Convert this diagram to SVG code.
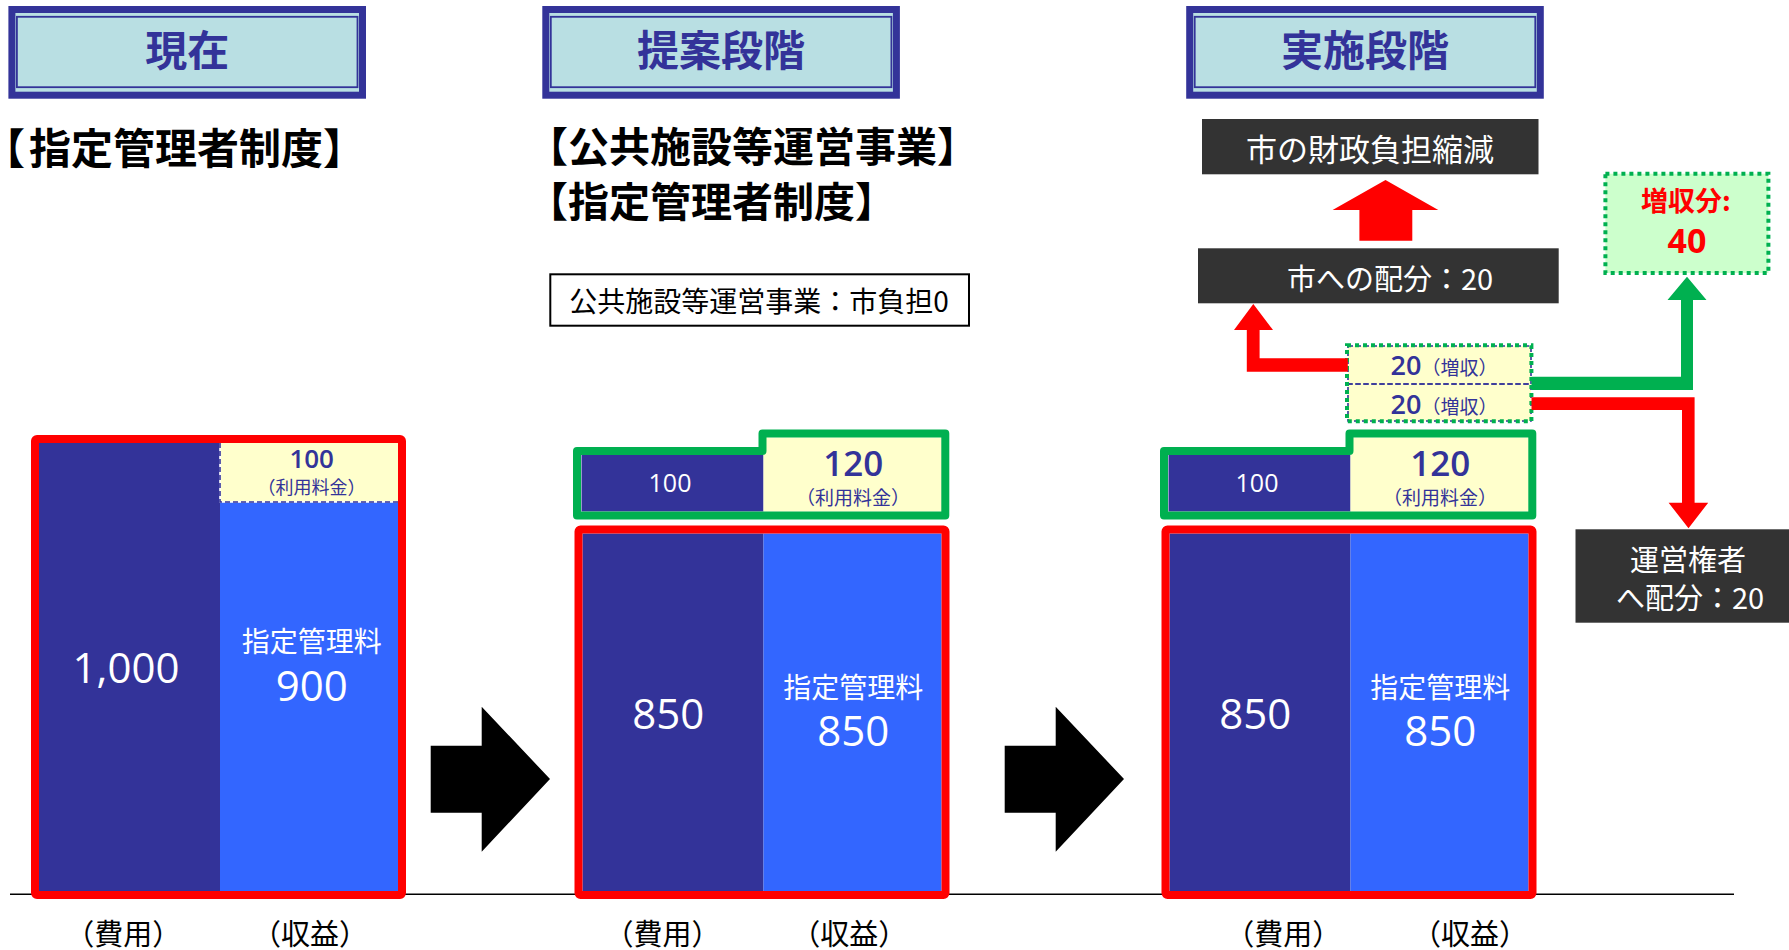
<svg xmlns="http://www.w3.org/2000/svg" width="1789" height="950" viewBox="0 0 1789 950">
<style>
text{font-family:"Noto Sans CJK JP","Noto Sans",sans-serif}
.num{font-family:"Open Sans","Noto Sans CJK JP",sans-serif}
.title{font-size:42px;font-weight:700;fill:#333399;text-anchor:middle}
.head{font-size:42px;font-weight:700;fill:#000}
.lbl{font-size:29px;fill:#000;text-anchor:middle}
.w{fill:#fff;text-anchor:middle}
.b{fill:#333399;text-anchor:middle}
.tframe{fill:#B9DFE3;stroke:#333399;stroke-width:7}
.tinner{fill:none;stroke:#333399;stroke-width:1.8}
.red{fill:none;stroke:#FF0000;stroke-width:8;stroke-linejoin:round}
.green{fill:none;stroke:#00B050;stroke-width:8;stroke-linejoin:round}
.dk{fill:#333399}.bl{fill:#3366FF}.yl{fill:#FFFFCC}
.dbox{fill:#333333}
.bdash{fill:none;stroke:#333399;stroke-width:1.6;stroke-dasharray:5 3}
</style>

<g id="title1" transform="translate(8.4,0)">
<rect class="tframe" x="3.5" y="9.5" width="350.6" height="85.7"/>
<rect class="tinner" x="8.5" y="16.8" width="340.6" height="70.4"/>
<text class="title" x="178.8" y="65.5">現在</text>
</g>
<g id="title2" transform="translate(542.3,0)">
<rect class="tframe" x="3.5" y="9.5" width="350.6" height="85.7"/>
<rect class="tinner" x="8.5" y="16.8" width="340.6" height="70.4"/>
<text class="title" x="178.8" y="65.5">提案段階</text>
</g>
<g id="title3" transform="translate(1186.2,0)">
<rect class="tframe" x="3.5" y="9.5" width="350.6" height="85.7"/>
<rect class="tinner" x="8.5" y="16.8" width="340.6" height="70.4"/>
<text class="title" x="178.8" y="65.5">実施段階</text>
</g>

<g id="heading1"><text class="head" x="4" y="164"><tspan style="font-feature-settings:'halt' 1">【</tspan><tspan dx="4">指定管理者制度】</tspan></text></g>
<g id="heading2">
<text class="head" font-size="41" style="font-size:41px"><tspan x="527" y="162">【公共施設等運営事業】</tspan><tspan x="527" y="217">【指定管理者制度】</tspan></text>
</g>
<g id="note">
<rect x="550.3" y="274.3" width="418.7" height="51.4" fill="#fff" stroke="#000" stroke-width="2"/>
<text x="759" y="312" font-size="28" text-anchor="middle" fill="#000">公共施設等運営事業：市負担0</text>
</g>

<line x1="10" y1="894.3" x2="1734" y2="894.3" stroke="#000" stroke-width="1.6"/>

<g id="bar1" transform="translate(31,0)">
<rect class="dk" x="8" y="443" width="181" height="448"/>
<rect class="bl" x="189" y="502" width="178" height="389"/>
<rect class="yl" x="189" y="443" width="178" height="59"/>
<path d="M189,443 V502 H367" fill="none" stroke="#fff" stroke-width="1.6"/>
<path class="bdash" d="M189,443 V502 H367"/>
<rect class="red" x="4" y="439" width="367" height="456" rx="2"/>
<text class="b"><tspan class="num" x="280.7" y="468" font-size="26" font-weight="600">100</tspan><tspan x="280.5" y="494" font-size="18">（利用料金）</tspan></text>
<text class="w num" x="95" y="683" font-size="42">1,000</text>
<text class="w"><tspan x="280.7" y="652" font-size="28">指定管理料</tspan><tspan class="num" x="280.7" y="701" font-size="42">900</tspan></text>
</g>

<g id="bar2" transform="translate(574.5,0)">
<rect class="dk" x="7" y="455" width="182" height="56.5"/>
<rect class="yl" x="189" y="437.5" width="178" height="74"/>
<path class="green" d="M2.5,451 H188 V433.5 H370.8 V515.5 H2.5 Z"/>
<rect class="dk" x="8" y="533.5" width="181" height="357.5"/>
<rect class="bl" x="189" y="533.5" width="178" height="357.5"/>
<rect class="red" x="4" y="529.5" width="367" height="365.5" rx="2"/>
<text class="w num" x="95.5" y="492" font-size="25">100</text>
<text class="b"><tspan class="num" x="278.8" y="476" font-size="35" font-weight="600">120</tspan><tspan x="278.5" y="505" font-size="19">（利用料金）</tspan></text>
<text class="w num" x="93.8" y="729" font-size="42">850</text>
<text class="w"><tspan x="278.8" y="698" font-size="28">指定管理料</tspan><tspan class="num" x="278.8" y="746" font-size="42">850</tspan></text>
</g>

<g id="bar3" transform="translate(1161.5,0)">
<rect class="dk" x="7" y="455" width="182" height="56.5"/>
<rect class="yl" x="189" y="437.5" width="178" height="74"/>
<path class="green" d="M2.5,451 H188 V433.5 H370.8 V515.5 H2.5 Z"/>
<rect class="dk" x="8" y="533.5" width="181" height="357.5"/>
<rect class="bl" x="189" y="533.5" width="178" height="357.5"/>
<rect class="red" x="4" y="529.5" width="367" height="365.5" rx="2"/>
<text class="w num" x="95.5" y="492" font-size="25">100</text>
<text class="b"><tspan class="num" x="278.8" y="476" font-size="35" font-weight="600">120</tspan><tspan x="278.5" y="505" font-size="19">（利用料金）</tspan></text>
<text class="w num" x="93.8" y="729" font-size="42">850</text>
<text class="w"><tspan x="278.8" y="698" font-size="28">指定管理料</tspan><tspan class="num" x="278.8" y="746" font-size="42">850</tspan></text>
</g>

<g id="labels">
<text class="lbl" x="123.3" y="945">（費用）</text>
<text class="lbl" x="310" y="945">（収益）</text>
<text class="lbl" x="662.5" y="945">（費用）</text>
<text class="lbl" x="849.2" y="945">（収益）</text>
<text class="lbl" x="1283.3" y="945">（費用）</text>
<text class="lbl" x="1470" y="945">（収益）</text>
</g>

<g id="zoushu-box">
<rect class="yl" x="1348" y="346" width="183" height="38"/>
<rect class="yl" x="1348" y="384" width="183" height="37"/>
<rect class="bdash" x="1348" y="346" width="183" height="38"/>
<rect class="bdash" x="1348" y="384" width="183" height="37"/>
<rect x="1347" y="345.3" width="184.4" height="76" fill="none" stroke="#00B050" stroke-width="4" stroke-dasharray="4 4"/>
<text class="b"><tspan x="1444" y="375"><tspan class="num" font-size="27" font-weight="600">20</tspan><tspan font-size="19">（増収）</tspan></tspan><tspan x="1444" y="414"><tspan class="num" font-size="27" font-weight="600">20</tspan><tspan font-size="19">（増収）</tspan></tspan></text>
</g>

<g id="zoushu-total">
<rect x="1605.4" y="173.7" width="163" height="99.3" fill="#CCFFCC" stroke="#00B050" stroke-width="4" stroke-dasharray="4 4"/>
<text font-weight="700" fill="#FF0000" text-anchor="middle"><tspan x="1686" y="211" font-size="27">増収分:</tspan><tspan class="num" x="1687" y="253" font-size="34">40</tspan></text>
</g>

<g id="shi-haibun">
<rect class="dbox" x="1198" y="248.3" width="360.7" height="55"/>
<text class="w" x="1390" y="290" font-size="29">市への配分：20</text>
</g>
<g id="shi-zaisei">
<rect class="dbox" x="1202" y="119" width="336.5" height="55.3"/>
<text class="w" x="1370" y="161" font-size="31">市の財政負担縮減</text>
</g>
<g id="unei">
<rect class="dbox" x="1575.5" y="529.3" width="213.5" height="93.4"/>
<text class="w" font-size="29"><tspan x="1688" y="571">運営権者</tspan><tspan x="1690" y="609">へ配分：20</tspan></text>
</g>

<g id="connectors">
<polygon points="430.7,745.7 481.7,745.7 481.7,706.7 550,779 481.7,851.7 481.7,812.7 430.7,812.7" fill="#000"/>
<polygon points="1004.7,745.7 1055.7,745.7 1055.7,706.7 1124,779 1055.7,851.7 1055.7,812.7 1004.7,812.7" fill="#000"/>
<polygon points="1385.5,180 1438.3,210 1412.3,210 1412.3,240.7 1359.4,240.7 1359.4,210 1332.6,210" fill="#FF0000"/>
<polygon points="1253.3,304 1273,330 1259.6,330 1259.6,358.3 1347.8,358.3 1347.8,371.7 1246.8,371.7 1246.8,330 1234,330" fill="#FF0000"/>
<polygon points="1531.5,376.7 1681,376.7 1681,300 1667.5,300 1687,276.7 1706.5,300 1693,300 1693,390 1531.5,390" fill="#00B050"/>
<polygon points="1531.5,397.3 1694.6,397.3 1694.6,502.7 1708.2,502.7 1688.5,528.3 1668.6,502.7 1682,502.7 1682,410 1531.5,410" fill="#FF0000"/>
</g>
</svg>
